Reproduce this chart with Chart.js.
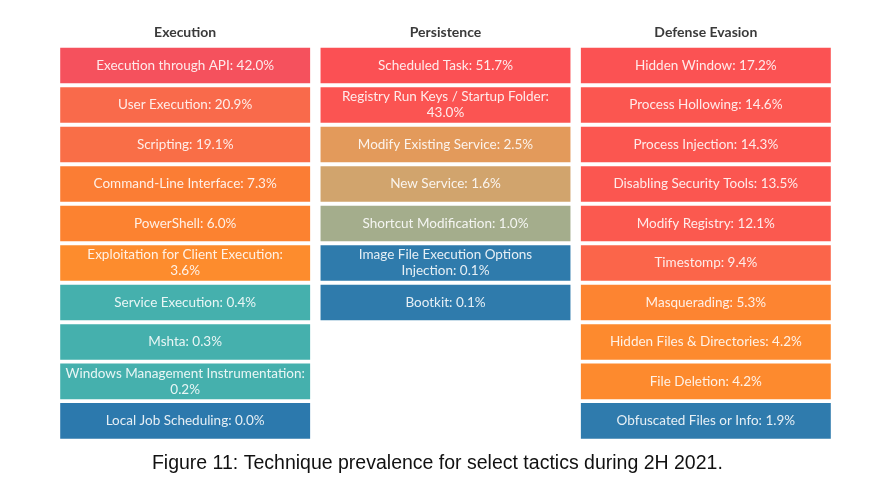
<!DOCTYPE html>
<html>
<head>
<meta charset="utf-8">
<title>Technique prevalence</title>
<script src="https://cdn.jsdelivr.net/npm/chart.js@4.4.1/dist/chart.umd.min.js"></script>
<style>
  body { margin: 0; background: #fff; }
</style>
</head>
<body>
<canvas id="tacticChart" width="875" height="500"></canvas>
<script>
// Tactics (columns)
const tactics = ["Execution", "Persistence", "Defense Evasion"];

// Execution techniques
const executionNames = ["Execution through API", "User Execution", "Scripting", "Command-Line Interface",
    "PowerShell", "Exploitation for Client Execution", "Service Execution", "Mshta",
    "Windows Management Instrumentation", "Local Job Scheduling"];
const executionValues = [42.0, 20.9, 19.1, 7.3, 6.0, 3.6, 0.4, 0.3, 0.2, 0.0];

// Persistence techniques
const persistenceNames = ["Scheduled Task", "Registry Run Keys / Startup Folder", "Modify Existing Service",
    "New Service", "Shortcut Modification", "Image File Execution Options Injection", "Bootkit"];
const persistenceValues = [51.7, 43.0, 2.5, 1.6, 1.0, 0.1, 0.1];

// Defense Evasion techniques
const defenseNames = ["Hidden Window", "Process Hollowing", "Process Injection", "Disabling Security Tools",
    "Modify Registry", "Timestomp", "Masquerading", "Hidden Files & Directories", "File Deletion",
    "Obfuscated Files or Info"];
const defenseValues = [17.2, 14.6, 14.3, 13.5, 12.1, 9.4, 5.3, 4.2, 4.2, 1.9];

// Cell colours, per column
const executionColors = ["#f5515d", "#f96a4b", "#f96e47", "#fb7d34", "#fc8230", "#fd8c2d",
    "#45b0ad", "#45b0ad", "#45b0ad", "#2c79ad"];
const persistenceColors = ["#fb5054", "#fb5452", "#e39a5b", "#d1a46d", "#a4ad8c", "#2f7bac", "#2f7bac"];
const defenseColors = ["#fb5253", "#fb5650", "#fb5650", "#fb5650", "#fb594f", "#fb654a",
    "#fd8431", "#fd8a2e", "#fd8a2e", "#2f7bad"];

const names = [executionNames, persistenceNames, defenseNames];
const values = [executionValues, persistenceValues, defenseValues];
const colors = [executionColors, persistenceColors, defenseColors];

const rowCount = Math.max(...names.map(n => n.length));
const gap = 0.05;

// one dataset per row, floating bars spanning that row
const datasets = [];
for (let r = 0; r < rowCount; r++) {
    datasets.push({
        label: "row " + (r + 1),
        data: tactics.map((t, c) => r < values[c].length ? [r + gap, r + 1 - gap] : null),
        backgroundColor: tactics.map((t, c) => colors[c][r] || "transparent"),
        borderWidth: 0,
        grouped: false,
        categoryPercentage: 0.96,
        barPercentage: 1
    });
}

// wrap on word boundaries, at most 35 characters a line
function wrapText(text, maxChars) {
    const words = text.split(" ");
    const lines = [];
    let line = "";
    words.forEach(function (w) {
        const test = line ? line + " " + w : w;
        if (test.length > maxChars && line) {
            lines.push(line);
            line = w;
        } else {
            line = test;
        }
    });
    if (line) lines.push(line);
    return lines;
}

// write technique names inside the cells
const cellLabels = {
    id: "cellLabels",
    afterDatasetsDraw(chart) {
        const ctx = chart.ctx;
        ctx.save();
        ctx.font = "13.5px Lato";
        ctx.fillStyle = "rgba(255,255,255,0.88)";
        ctx.textAlign = "center";
        ctx.textBaseline = "middle";
        chart.data.datasets.forEach(function (ds, r) {
            const meta = chart.getDatasetMeta(r);
            meta.data.forEach(function (bar, c) {
                if (ds.data[c] === null) return;
                const text = names[c][r] + ": " + values[c][r].toFixed(1) + "%";
                const lines = wrapText(text, 35);
                const cy = (bar.y + bar.base) / 2;
                const lh = 16;
                lines.forEach(function (l, i) {
                    ctx.fillText(l, bar.x, cy + (i - (lines.length - 1) / 2) * lh);
                });
            });
        });
        ctx.restore();
    }
};

new Chart(document.getElementById("tacticChart"), {
    type: "bar",
    data: { labels: tactics, datasets: datasets },
    plugins: [cellLabels],
    options: {
        responsive: false,
        animation: false,
        layout: { padding: { left: 55, right: 39, top: 20, bottom: 9 } },
        plugins: {
            legend: { display: false },
            tooltip: { enabled: false },
            title: {
                display: true,
                position: "bottom",
                text: "Figure 11: Technique prevalence for select tactics during 2H 2021.   ",
                color: "#111",
                font: { family: "Liberation Sans", size: 19.5, weight: "normal" },
                padding: { top: 11, bottom: 16 }
            }
        },
        scales: {
            x: {
                position: "top",
                grid: { display: false, drawTicks: false },
                border: { display: false },
                ticks: {
                    color: "#3a3a3a",
                    padding: 4.5,
                    font: { family: "Lato", size: 14, weight: "bold" }
                }
            },
            y: {
                display: false,
                reverse: true,
                min: 0,
                max: rowCount
            }
        }
    }
});
</script>
</body>
</html>
